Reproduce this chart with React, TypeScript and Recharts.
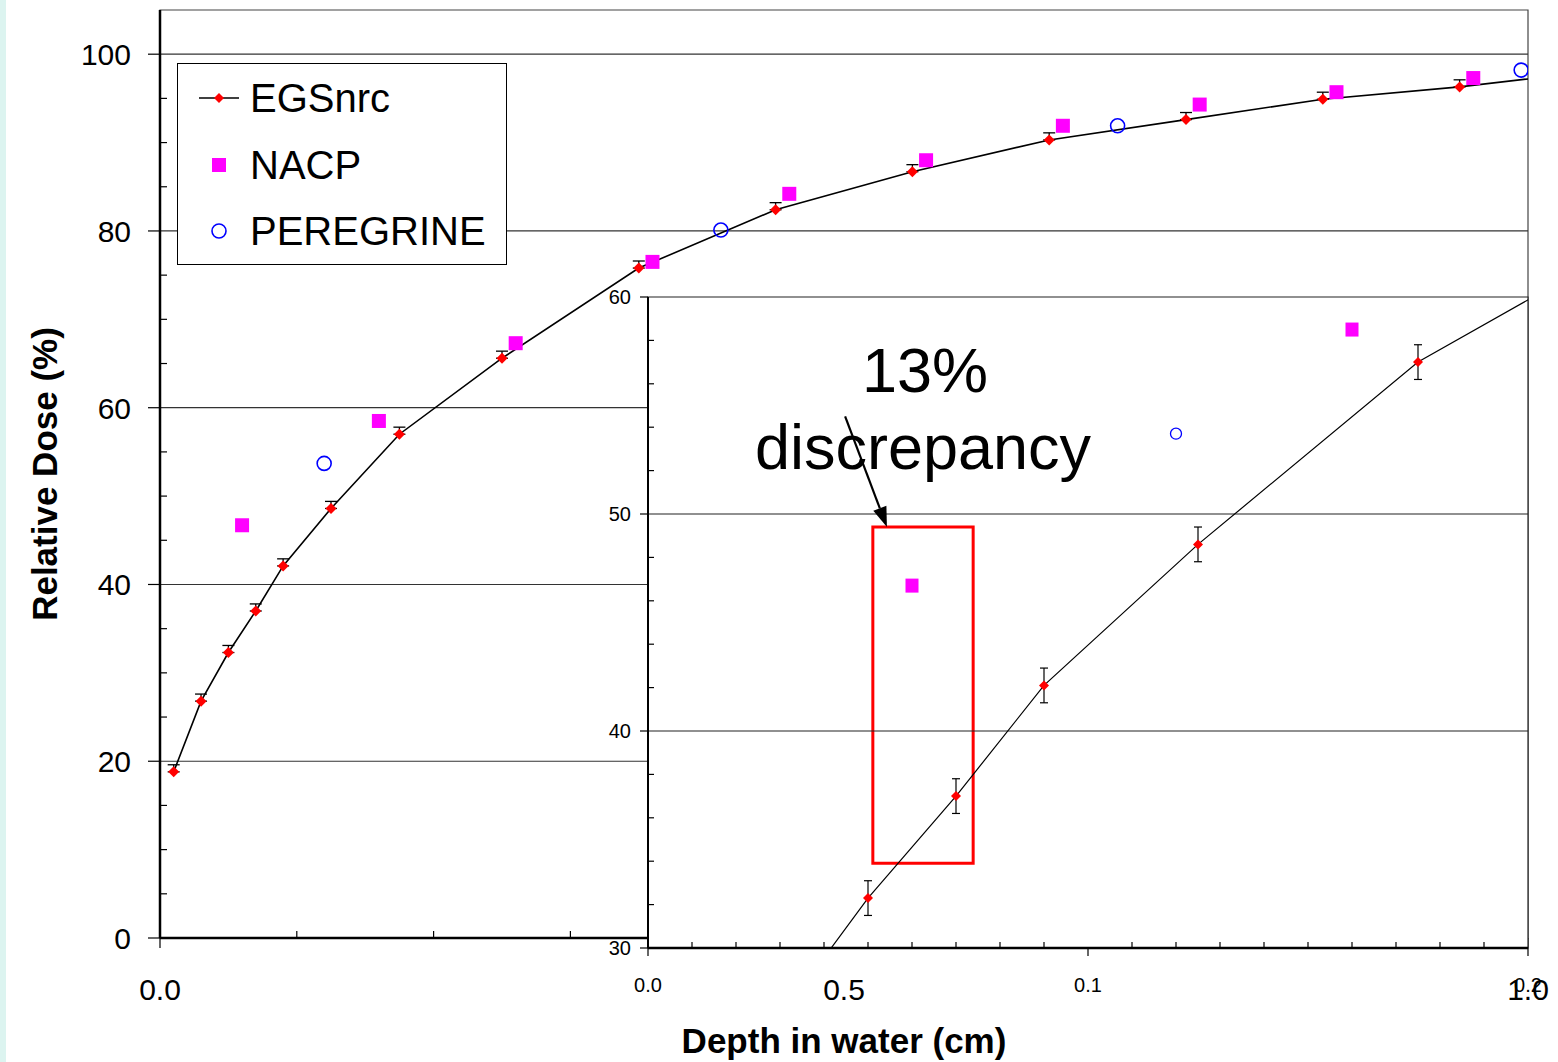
import React from 'react';
import {
  ComposedChart, Line, Scatter, XAxis, YAxis, ErrorBar, ReferenceLine, ReferenceArea, CartesianGrid, Label,
} from 'recharts';

const FONT = '"Liberation Sans", Arial, Helvetica, sans-serif';
const W = 1558;
const H = 1062;

// EGSnrc calculation (last entry is the end of the drawn curve, no marker)
const egsDepth = [0.01, 0.03, 0.05, 0.07, 0.09, 0.125, 0.175, 0.25, 0.35, 0.45, 0.55, 0.65, 0.75, 0.85, 0.95, 1.0];
const egsDose = [18.8, 26.8, 32.3, 37.0, 42.1, 48.6, 57.0, 65.6, 75.8, 82.4, 86.7, 90.3, 92.6, 94.9, 96.3, 97.2];
const egsErr = [0.8, 0.8, 0.8, 0.8, 0.8, 0.8, 0.8, 0.8, 0.8, 0.8, 0.8, 0.8, 0.8, 0.8, 0.8, null];

// NACP chamber measurement
const nacpDepth = [0.06, 0.16, 0.26, 0.36, 0.46, 0.56, 0.66, 0.76, 0.86, 0.96];
const nacpDose = [46.7, 58.5, 67.3, 76.5, 84.2, 88.0, 91.9, 94.3, 95.7, 97.3];

// PEREGRINE
const peregrineDepth = [0.12, 0.41, 0.7, 0.995];
const peregrineDose = [53.7, 80.1, 91.9, 98.2];

// axes
const mainXDomain = [0, 1];
const mainYDomain = [0, 105];
const mainXTicks = [0, 0.1, 0.2, 0.3, 0.4, 0.5, 0.6, 0.7, 0.8, 0.9, 1.0];
const mainXLabels = [0, 0.5, 1.0];
const mainYTicks = [0, 5, 10, 15, 20, 25, 30, 35, 40, 45, 50, 55, 60, 65, 70, 75, 80, 85, 90, 95, 100];
const mainYLabels = [0, 20, 40, 60, 80, 100];
const mainGrid = [20, 40, 60, 80, 100];

const insetXDomain = [0, 0.2];
const insetYDomain = [30, 60];
const insetXTicks = [0, 0.01, 0.02, 0.03, 0.04, 0.05, 0.06, 0.07, 0.08, 0.09, 0.1, 0.11, 0.12, 0.13, 0.14, 0.15, 0.16, 0.17, 0.18, 0.19, 0.2];
const insetXLabels = [0, 0.1, 0.2];
const insetYTicks = [30, 32, 34, 36, 38, 40, 42, 44, 46, 48, 50, 52, 54, 56, 58, 60];
const insetYLabels = [30, 40, 50, 60];
const insetGrid = [40, 50];

// annotation: highlighted NACP point and arrow (inset data coordinates)
const boxDepth = [0.0511, 0.0739];
const boxDose = [33.9, 49.4];
const arrowFrom = { x: 0.0448, y: 54.5 };
const arrowTo = { x: 0.0543, y: 49.4 };

const legendItems = [
  { name: 'EGSnrc', marker: 'diamond' },
  { name: 'NACP', marker: 'square' },
  { name: 'PEREGRINE', marker: 'circle' },
];

const egsPoints = egsDepth.map((depth, i) => ({
  depth,
  dose: egsDose[i],
  err: egsErr[i],
  errUp: egsErr[i] == null ? null : [0, egsErr[i]],
}));
const nacpPoints = nacpDepth.map((depth, i) => ({ depth, dose: nacpDose[i] }));
const peregrinePoints = peregrineDepth.map((depth, i) => ({ depth, dose: peregrineDose[i] }));

const inInset = (d: { depth: number; dose: number }) =>
  d.depth >= insetXDomain[0] && d.depth <= insetXDomain[1] && d.dose >= insetYDomain[0] && d.dose <= insetYDomain[1];

const insetLine = egsPoints
  .filter(d => d.depth >= 0.03 && d.depth <= 0.25)
  .map(d => ({ ...d, errIn: inInset(d) ? d.err : null }));

const near = (a: number, b: number) => Math.abs(a - b) < 1e-9;
const isLabel = (list: number[], v: number) => list.some(l => near(l, v));

const Diamond = ({ cx, cy, s }: any) => (
  <path d={`M${cx},${cy - s}L${cx + s},${cy}L${cx},${cy + s}L${cx - s},${cy}Z`} fill="#ff0000" />
);

const makeYTick = (labels: number[], out: number, inn: number, gap: number, fs: number) => (p: any) => {
  const v = p.payload.value;
  if (!isLabel(labels, v)) {
    return <line key={p.index} x1={p.x} x2={p.x + inn} y1={p.y} y2={p.y} stroke="#000" strokeWidth={1.2} />;
  }
  return (
    <g key={p.index}>
      <line x1={p.x - out} x2={p.x} y1={p.y} y2={p.y} stroke="#000" strokeWidth={1.2} />
      <text x={p.x - gap} y={p.y} dy={fs * 0.36} textAnchor="end" fontSize={fs} fontFamily={FONT} fill="#000">{v}</text>
    </g>
  );
};

const makeXTick = (labels: number[], out: number, inn: number, base: number, fs: number) => (p: any) => {
  const v = p.payload.value;
  if (!isLabel(labels, v)) {
    return <line key={p.index} x1={p.x} x2={p.x} y1={p.y} y2={p.y - inn} stroke="#000" strokeWidth={1.2} />;
  }
  return (
    <g key={p.index}>
      <line x1={p.x} x2={p.x} y1={p.y} y2={p.y + out} stroke="#000" strokeWidth={1.2} />
      <text x={p.x} y={p.y + base} textAnchor="middle" fontSize={fs} fontFamily={FONT} fill="#000">{v.toFixed(1)}</text>
    </g>
  );
};

const Arrow = (p: any) => {
  const { x1, y1, x2, y2 } = p;
  const a = Math.atan2(y2 - y1, x2 - x1);
  const len = 20;
  const half = 7;
  const bx = x2 - len * Math.cos(a);
  const by = y2 - len * Math.sin(a);
  const nx = -Math.sin(a);
  const ny = Math.cos(a);
  return (
    <g>
      <line x1={x1} y1={y1} x2={bx} y2={by} stroke="#000" strokeWidth={2.2} />
      <polygon points={`${x2},${y2} ${bx + nx * half},${by + ny * half} ${bx - nx * half},${by - ny * half}`} fill="#000" />
    </g>
  );
};

const LegendIcon = ({ marker }: { marker: string }) => (
  <svg width={44} height={44} style={{ display: 'block' }}>
    {marker === 'diamond' && (
      <g>
        <line x1={2} x2={42} y1={22} y2={22} stroke="#000" strokeWidth={1.5} />
        <Diamond cx={22} cy={22} s={5} />
      </g>
    )}
    {marker === 'square' && <rect x={15} y={15} width={14} height={14} fill="#ff00ff" />}
    {marker === 'circle' && <circle cx={22} cy={22} r={7} fill="none" stroke="#0000ff" strokeWidth={1.6} />}
  </svg>
);

export default function App() {
  return (
    <div style={{ position: 'absolute', left: 0, top: 0, width: W, height: H, background: '#fff', overflow: 'hidden', fontFamily: FONT }}>
      <div style={{ position: 'absolute', left: 0, top: 0, width: 6, height: H, background: '#dcf4f0' }} />

      {/* main depth-dose chart */}
      <div style={{ position: 'absolute', left: 0, top: 0 }}>
        <ComposedChart width={W} height={H} data={egsPoints} margin={{ top: 10, right: 30, bottom: 123, left: 159 }}>
          {mainGrid.map(g => (
            <ReferenceLine key={g} y={g} stroke="#333" strokeWidth={1.2} />
          ))}
          <ReferenceArea x1={0} x2={1} y1={0} y2={105} fill="none" stroke="#444" strokeWidth={1.2} />
          <XAxis
            dataKey="depth" type="number" domain={mainXDomain} allowDataOverflow ticks={mainXTicks} interval={0}
            height={1} tickSize={0} tickMargin={0} tickLine={false}
            axisLine={{ stroke: '#000', strokeWidth: 2.5 }}
            tick={makeXTick(mainXLabels, 10, 7, 62, 30)}
          >
            <Label
              content={(p: any) => (
                <text x={p.viewBox.x + p.viewBox.width / 2} y={p.viewBox.y + 115} textAnchor="middle"
                  fontSize={35} fontWeight="bold" fontFamily={FONT} fill="#000">Depth in water (cm)</text>
              )}
            />
          </XAxis>
          <YAxis
            dataKey="dose" type="number" domain={mainYDomain} allowDataOverflow ticks={mainYTicks} interval={0}
            width={1} tickSize={0} tickMargin={0} tickLine={false}
            axisLine={{ stroke: '#000', strokeWidth: 2.5 }}
            tick={makeYTick(mainYLabels, 12, 7, 29, 30)}
          >
            <Label
              content={(p: any) => {
                const cx = p.viewBox.x - 114;
                const cy = p.viewBox.y + p.viewBox.height / 2;
                return (
                  <text x={cx} y={cy} dy={12} transform={`rotate(-90, ${cx}, ${cy})`} textAnchor="middle"
                    fontSize={35} fontWeight="bold" fontFamily={FONT} fill="#000">Relative Dose (%)</text>
                );
              }}
            />
          </YAxis>
          <Line
            data={egsPoints} dataKey="dose" type="linear" stroke="#000" strokeWidth={1.6} isAnimationActive={false}
            dot={(p: any) => (p.payload.err == null ? <g key={p.index} /> : <Diamond key={p.index} cx={p.cx} cy={p.cy} s={5.5} />)}
            activeDot={false}
          >
            <ErrorBar dataKey="errUp" direction="y" width={6} stroke="#000" strokeWidth={1.3} />
          </Line>
          <Scatter
            data={nacpPoints} dataKey="dose" isAnimationActive={false}
            shape={(p: any) => <rect x={p.cx - 7} y={p.cy - 7} width={14} height={14} fill="#ff00ff" />}
          />
          <Scatter
            data={peregrinePoints} dataKey="dose" isAnimationActive={false}
            shape={(p: any) => <circle cx={p.cx} cy={p.cy} r={7} fill="none" stroke="#0000ff" strokeWidth={1.6} />}
          />
        </ComposedChart>
      </div>

      {/* legend */}
      <div style={{ position: 'absolute', left: 177, top: 63, width: 330, height: 202, border: '1px solid #000', background: '#fff', boxSizing: 'border-box' }}>
        {legendItems.map((it, i) => (
          <div key={it.name} style={{ position: 'absolute', left: 19, top: 34 + i * 66.5 - 22, height: 44, display: 'flex', alignItems: 'center' }}>
            <LegendIcon marker={it.marker} />
            <span style={{ marginLeft: 9, fontSize: 40, color: '#000', lineHeight: '44px' }}>{it.name}</span>
          </div>
        ))}
      </div>

      {/* inset: zoom of the build-up region */}
      <div style={{ position: 'absolute', left: 0, top: 0 }}>
        <ComposedChart width={W} height={H} data={insetLine} margin={{ top: 297, right: 30, bottom: 113, left: 647 }}>
          <CartesianGrid fill="#fff" horizontal={false} vertical={false} stroke="none" />
          {insetGrid.map(g => (
            <ReferenceLine key={g} y={g} stroke="#222" strokeWidth={1.2} />
          ))}
          <ReferenceArea x1={0} x2={0.2} y1={30} y2={60} fill="none" stroke="#222" strokeWidth={1.2} />
          <XAxis
            dataKey="depth" type="number" domain={insetXDomain} allowDataOverflow ticks={insetXTicks} interval={0}
            height={1} tickSize={0} tickMargin={0} tickLine={false}
            axisLine={{ stroke: '#000', strokeWidth: 2.5 }}
            tick={makeXTick(insetXLabels, 8, 6, 44, 20)}
          />
          <YAxis
            dataKey="dose" type="number" domain={insetYDomain} allowDataOverflow ticks={insetYTicks} interval={0}
            width={1} tickSize={0} tickMargin={0} tickLine={false}
            axisLine={{ stroke: '#000', strokeWidth: 2 }}
            tick={makeYTick(insetYLabels, 8, 6, 17, 20)}
          />
          <Line
            data={insetLine} dataKey="dose" type="linear" stroke="#000" strokeWidth={1.2} isAnimationActive={false}
            dot={(p: any) => (inInset(p.payload) ? <Diamond key={p.index} cx={p.cx} cy={p.cy} s={5} /> : <g key={p.index} />)}
            activeDot={false}
          >
            <ErrorBar dataKey="errIn" direction="y" width={4} stroke="#000" strokeWidth={1.2} />
          </Line>
          <Scatter
            data={nacpPoints.filter(inInset)} dataKey="dose" isAnimationActive={false}
            shape={(p: any) => <rect x={p.cx - 6.5} y={p.cy - 7} width={13} height={14} fill="#ff00ff" />}
          />
          <Scatter
            data={peregrinePoints.filter(inInset)} dataKey="dose" isAnimationActive={false}
            shape={(p: any) => <circle cx={p.cx} cy={p.cy} r={5.5} fill="none" stroke="#0000ff" strokeWidth={1.3} />}
          />
          <ReferenceArea x1={boxDepth[0]} x2={boxDepth[1]} y1={boxDose[0]} y2={boxDose[1]} fill="none" stroke="#ff0000" strokeWidth={3} />
          <ReferenceLine segment={[arrowFrom, arrowTo]} shape={Arrow} />
        </ComposedChart>
      </div>

      {/* annotation text */}
      <svg width={W} height={H} style={{ position: 'absolute', left: 0, top: 0, pointerEvents: 'none' }}>
        <text x={925} y={392} textAnchor="middle" fontSize={63} fontFamily={FONT} fill="#000">13%</text>
        <text x={923} y={469} textAnchor="middle" fontSize={63} fontFamily={FONT} fill="#000">discrepancy</text>
      </svg>
    </div>
  );
}
